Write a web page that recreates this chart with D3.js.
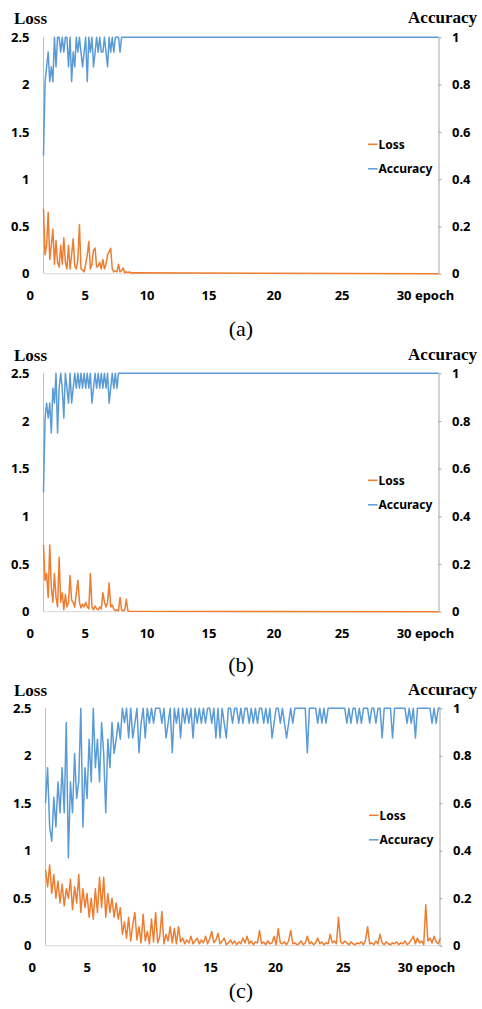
<!DOCTYPE html>
<html>
<head>
<meta charset="utf-8">
<script src="https://cdn.jsdelivr.net/npm/d3@7"></script>
<style>
  body { margin: 0; background: #fff; }
  .tick text { font-family: "Noto Sans", sans-serif; font-weight: 700; font-size: 13px; fill: #000; }
</style>
</head>
<body>
<div id="chart-area"></div>
<script>
// ---- data ----
const lossTicks = [0, 0.5, 1, 1.5, 2, 2.5];
const accTicks = [0, 0.2, 0.4, 0.6, 0.8, 1];
const epochTicks = [0, 5, 10, 15, 20, 25, 30];
// where each epoch label sits on the category axis
const epochTickAt = [-0.1, 4.3, 9.25, 14.2, 19.4, 24.85, 29.85];
const epochEnd = 32.6;

// (a) and (b): 8 samples per epoch from epoch 1, then flat to the end
const stepsAB = 8;
const lossTail = 0;
const accTail = 1;

const lossA = [0.69, 0.2, 0.3, 0.65, 0.15, 0.3, 0.47, 0.1, 0.35, 0.12, 0.07, 0.3, 0.1, 0.38, 0.12, 0.05,
  0.3, 0.05, 0.2, 0.37, 0.08, 0.05, 0.15, 0.52, 0.05, 0.04, 0.02, 0.1, 0.2, 0.34, 0.05, 0.1,
  0.25, 0.27, 0.07, 0.08, 0.12, 0.05, 0.15, 0.05, 0.1, 0.2, 0.23, 0.27, 0.05, 0.02, 0.03, 0.02,
  0.1, 0.02, 0.03, 0.06, 0.01, 0.02, 0.01, 0.02, 0.005, 0.01];
const accA = [0.5, 0.8125, 0.875, 0.9375, 0.8125, 0.875, 0.8125, 1, 0.875, 1, 1, 0.9375, 1, 0.9375, 1, 1,
  0.875, 1, 0.8125, 0.9375, 0.875, 1, 0.9375, 1, 0.9375, 0.875, 0.9375, 1, 0.8125, 1, 0.9375, 1,
  0.875, 0.9375, 1, 0.9375, 1, 0.9375, 0.9375, 1, 0.9375, 0.875, 1, 0.9375, 1, 0.9375, 1, 1,
  1, 0.9375, 1];

const lossB = [0.7, 0.33, 0.4, 0.15, 0.7, 0.25, 0.1, 0.4, 0.15, 0.05, 0.57, 0.1, 0.2, 0.02, 0.18, 0.05,
  0.1, 0.38, 0.12, 0.1, 0.05, 0.2, 0.33, 0.1, 0.04, 0.08, 0.05, 0.1, 0.05, 0.03, 0.4, 0.05,
  0.02, 0.06, 0.03, 0.02, 0.05, 0.03, 0.2, 0.1, 0.05, 0.1, 0.3, 0.05, 0.07, 0.03, 0.01, 0.02,
  0.01, 0.15, 0.02, 0.01, 0.02, 0.13, 0.01, 0.005];
const accB = [0.5, 0.8125, 0.875, 0.8125, 0.875, 0.75, 0.9375, 0.875, 1, 0.75, 0.9375, 1, 0.9375, 0.8125, 1, 0.9375,
  0.875, 1, 0.875, 0.9375, 1, 0.9375, 1, 0.9375, 1, 0.9375, 1, 0.9375, 1, 0.9375, 1, 0.875,
  0.9375, 1, 0.9375, 1, 0.9375, 1, 0.9375, 1, 0.9375, 1, 0.875, 0.9375, 1, 0.9375, 1, 0.9375,
  1];

// (c): 6 samples per epoch from epoch 1 up to the end
const stepsC = 6;
const lossC = [0.8, 0.62, 0.85, 0.55, 0.75, 0.5, 0.68, 0.45,
  0.65, 0.42, 0.6, 0.5, 0.7, 0.38, 0.62, 0.45,
  0.75, 0.35, 0.6, 0.4, 0.55, 0.3, 0.5, 0.28,
  0.6, 0.35, 0.72, 0.4, 0.72, 0.3, 0.55, 0.35,
  0.5, 0.3, 0.45, 0.28, 0.4, 0.12, 0.25, 0.08,
  0.3, 0.05, 0.22, 0.35, 0.06, 0.2, 0.03, 0.33,
  0.05, 0.15, 0.02, 0.28, 0.04, 0.35, 0.03, 0.1,
  0.36, 0.02, 0.12, 0.05, 0.2, 0.03, 0.18, 0.02,
  0.2, 0.04, 0.08, 0.02, 0.06, 0.03, 0.1, 0.02,
  0.05, 0.08, 0.02, 0.06, 0.03, 0.1, 0.02, 0.07,
  0.15, 0.03, 0.06, 0.13, 0.02, 0.05, 0.08, 0.01,
  0.03, 0.06, 0.02, 0.05, 0.01, 0.04, 0.02, 0.08,
  0.03, 0.1, 0.02, 0.05, 0.01, 0.04, 0.03, 0.16,
  0.02, 0.04, 0.01, 0.05, 0.02, 0.03, 0.1, 0.01,
  0.18, 0.03, 0.02, 0.04, 0.01, 0.05, 0.16, 0.02,
  0.03, 0.01, 0.02, 0.05, 0.01, 0.03, 0.1, 0.02,
  0.04, 0.01, 0.03, 0.08, 0.02, 0.04, 0.01, 0.03,
  0.02, 0.12, 0.03, 0.05, 0.02, 0.3, 0.04, 0.02,
  0.05, 0.03, 0.01, 0.04, 0.02, 0.01, 0.03, 0.02,
  0.04, 0.01, 0.06, 0.2, 0.02, 0.03, 0.01, 0.05,
  0.02, 0.12, 0.03, 0.01, 0.04, 0.02, 0.01, 0.03,
  0.02, 0.04, 0.01, 0.03, 0.02, 0.05, 0.01, 0.03,
  0.06, 0.1, 0.02, 0.08, 0.03, 0.05, 0.01, 0.43,
  0.05, 0.08, 0.03, 0.1, 0.04, 0.02, 0.08];
const accC = [0.6, 0.75, 0.5, 0.44, 0.625, 0.5, 0.69, 0.56,
  0.75, 0.56, 0.94, 0.37, 0.69, 0.56, 0.81, 0.62,
  0.69, 1, 0.5, 0.75, 0.62, 0.87, 0.69, 1,
  0.75, 0.87, 0.69, 0.94, 0.81, 0.56, 0.87, 0.75,
  0.94, 0.81, 0.87, 0.94, 0.87, 1, 0.94, 1,
  0.875, 1, 0.875, 0.9375, 1, 0.8125, 0.9375, 1,
  0.875, 1, 0.9375, 1, 0.9375, 1, 1, 1,
  0.9375, 1, 0.875, 0.9375, 1, 0.8125, 1, 0.9375,
  1, 0.875, 1, 0.9375, 1, 0.9375, 1, 0.875,
  1, 0.9375, 1, 0.9375, 1, 0.9375, 1, 1,
  0.9375, 1, 0.875, 1, 0.875, 1, 0.9375, 0.875,
  1, 1, 0.9375, 1, 1, 0.9375, 1, 0.9375,
  1, 1, 0.9375, 1, 0.9375, 1, 0.9375, 1,
  1, 0.9375, 1, 0.9375, 1, 0.875, 0.9375, 1,
  1, 0.9375, 1, 0.9375, 0.875, 0.9375, 1, 0.9375,
  1, 1, 1, 1, 1, 1, 0.8125, 1,
  1, 1, 1, 0.9375, 1, 0.9375, 1, 0.9375,
  1, 1, 1, 1, 1, 1, 1, 1,
  1, 0.9375, 1, 0.9375, 1, 1, 0.9375, 1,
  0.9375, 1, 1, 1, 0.9375, 1, 1, 0.9375,
  1, 1, 0.875, 1, 1, 1, 1, 0.875,
  1, 1, 1, 1, 1, 1, 0.9375, 1,
  0.9375, 1, 0.875, 1, 1, 1, 1, 1,
  1, 1, 0.9375, 1, 0.9375, 1, 1];

// ---- layout ----
const W = 482, H = 1009;
const orange = "#ED7D31", blue = "#5B9BD5";

const toPoints = (vals, steps, tail) => {
  const pts = vals.map((v, i) => [1 + i / steps, v]);
  if (tail !== undefined) pts.push([epochEnd, tail]);
  return pts;
};

const panels = [
  { caption: "(a)", top: 37.3, bottom: 273.7, left: 43.5, right: 438.5, titleY: 24, captionY: 336,
    loss: toPoints(lossA, stepsAB, lossTail), acc: toPoints(accA, stepsAB, accTail) },
  { caption: "(b)", top: 373.3, bottom: 611.7, left: 43.5, right: 438.5, titleY: 361, captionY: 672,
    loss: toPoints(lossB, stepsAB, lossTail), acc: toPoints(accB, stepsAB, accTail) },
  { caption: "(c)", top: 708.3, bottom: 945.7, left: 45.5, right: 439.5, titleY: 696, captionY: 998,
    loss: toPoints(lossC, stepsC), acc: toPoints(accC, stepsC) }
];

const svg = d3.select("#chart-area")
  .append("svg")
  .attr("width", W)
  .attr("height", H)
  .style("display", "block");

panels.forEach(p => {
  const g = svg.append("g");

  const x = d3.scaleLinear().domain([1, epochEnd]).range([p.left, p.right]);
  const yLoss = d3.scaleLinear().domain([0, 2.5]).range([p.bottom, p.top]);
  const yAcc = d3.scaleLinear().domain([0, 1]).range([p.bottom, p.top]);

  // axis lines
  g.append("line")
    .attr("x1", p.left).attr("x2", p.left)
    .attr("y1", p.top).attr("y2", p.bottom)
    .attr("stroke", "#bfbfbf").attr("stroke-width", 1);
  g.append("line")
    .attr("x1", p.left).attr("x2", p.right)
    .attr("y1", p.bottom).attr("y2", p.bottom)
    .attr("stroke", "#d9d9d9").attr("stroke-width", 1);

  // left (loss) labels
  g.append("g")
    .attr("transform", `translate(${p.left},0)`)
    .call(d3.axisLeft(yLoss).tickValues(lossTicks).tickSize(0).tickPadding(14).tickFormat(d => d))
    .call(a => a.select(".domain").remove());

  // right (accuracy) axis
  const right = g.append("g")
    .attr("transform", `translate(${p.right},0)`)
    .call(d3.axisRight(yAcc).tickValues(accTicks).tickSize(3).tickPadding(10.5).tickSizeOuter(0)
      .tickFormat(d => d));
  right.select(".domain").attr("stroke", "#a6a6a6");
  right.selectAll(".tick line").attr("stroke", "#a6a6a6");

  // x labels: label text from epochTicks, placed at the category positions
  const bottomAxis = g.append("g")
    .attr("transform", `translate(0,${p.bottom})`)
    .call(d3.axisBottom(x).tickValues(epochTickAt).tickSize(0).tickPadding(17)
      .tickFormat((d, i) => epochTicks[i] === 30 ? "30 epoch" : epochTicks[i]));
  bottomAxis.select(".domain").remove();
  bottomAxis.selectAll(".tick text")
    .filter((d, i) => epochTicks[i] === 30)
    .attr("text-anchor", "start")
    .attr("x", -8);

  // lines
  g.append("path")
    .datum(p.acc)
    .attr("fill", "none")
    .attr("stroke", blue)
    .attr("stroke-width", 1.5)
    .attr("stroke-linejoin", "round")
    .attr("d", d3.line().x(d => x(d[0])).y(d => yAcc(d[1])));
  g.append("path")
    .datum(p.loss)
    .attr("fill", "none")
    .attr("stroke", orange)
    .attr("stroke-width", 1.5)
    .attr("stroke-linejoin", "round")
    .attr("d", d3.line().x(d => x(d[0])).y(d => yLoss(d[1])));

  // axis titles
  g.append("text")
    .attr("x", 14).attr("y", p.titleY)
    .attr("font-family", "Liberation Serif, serif")
    .attr("font-weight", 700).attr("font-size", "17px")
    .text("Loss");
  g.append("text")
    .attr("x", 477).attr("y", p.titleY - 1)
    .attr("text-anchor", "end")
    .attr("font-family", "Liberation Serif, serif")
    .attr("font-weight", 700).attr("font-size", "17px")
    .text("Accuracy");

  // legend
  const legend = [["Loss", orange], ["Accuracy", blue]];
  legend.forEach(([name, color], i) => {
    const ly = p.top + 107 + i * 24.5;
    g.append("line")
      .attr("x1", p.right - 70.5).attr("x2", p.right - 61)
      .attr("y1", ly).attr("y2", ly)
      .attr("stroke", color).attr("stroke-width", 1.5);
    g.append("text")
      .attr("x", p.right - 60).attr("y", ly + 4.5)
      .attr("font-family", "Noto Sans, sans-serif")
      .attr("font-weight", 700).attr("font-size", "12px")
      .text(name);
  });

  // caption
  g.append("text")
    .attr("x", 241).attr("y", p.captionY)
    .attr("text-anchor", "middle")
    .attr("font-family", "Liberation Serif, serif")
    .attr("font-size", "22px")
    .text(p.caption);
});
</script>
</body>
</html>
